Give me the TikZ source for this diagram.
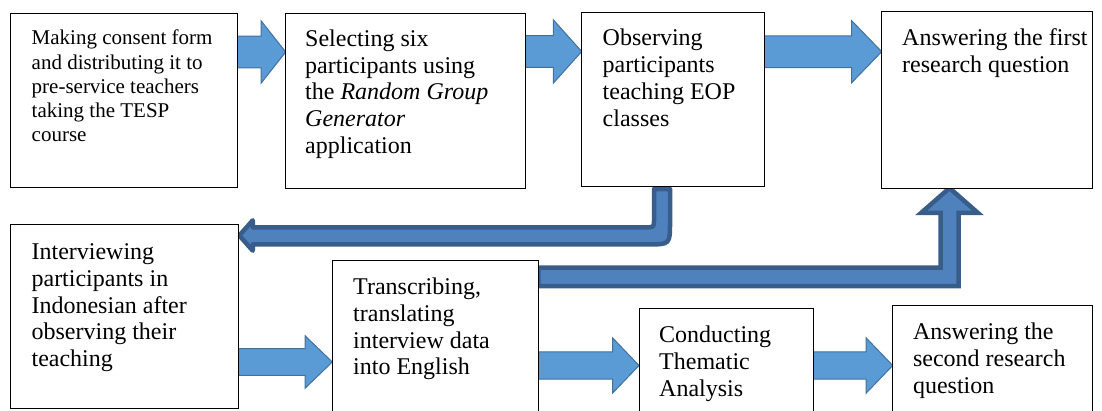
\documentclass[tikz,border=0pt]{standalone}
\usepackage{fontspec}
\setmainfont{Liberation Serif}
\usetikzlibrary{calc,backgrounds}
\definecolor{arrowfill}{HTML}{5B9BD5}
\definecolor{arrowline}{HTML}{41719C}
\definecolor{bentfill}{HTML}{4F81BD}
\definecolor{bentline}{HTML}{385D8A}
\newcommand\bigtxt{\fontsize{24}{26.8}\selectfont}
\newcommand\smalltxt{\fontsize{21}{24.3}\selectfont}
\newcommand\flatarr[6]{%
  \draw[flatarrow] (#1.east |- 0,#3-#4) -- ($(#2.west |- 0,#3-#4)+(-#6,0)$) -- ($(#2.west |- 0,#3-#5)+(-#6,0)$) -- (#2.west |- 0,#3) -- ($(#2.west |- 0,#3+#5)+(-#6,0)$) -- ($(#2.west |- 0,#3+#4)+(-#6,0)$) -- (#1.east |- 0,#3+#4) -- cycle;}
\begin{document}
\begin{tikzpicture}[x=1pt,y=-1pt,
  box/.style={draw=black,line width=0.9pt,fill=white,rectangle,inner sep=0pt,outer sep=0pt,anchor=north west},
  txt/.style={anchor=north west,inner sep=0pt,align=left,font=\bigtxt},
  flatarrow/.style={fill=arrowfill,draw=arrowline,line width=1pt,line join=miter},
  bentarrow/.style={fill=bentfill,draw=bentline,line width=4.5pt}]
\useasboundingbox (0,0) rectangle (1102,410);
\clip (0,0) rectangle (1102,410);
% boxes
\node[box,minimum width=226.8pt,minimum height=173.7pt] (b1) at (10.5,13.3) {};
\node[box,minimum width=240pt,minimum height=174.7pt] (b2) at (285.7,13.3) {};
\node[box,minimum width=182.6pt,minimum height=174pt] (b3) at (581.7,12.5) {};
\node[box,minimum width=210.5pt,minimum height=176.5pt] (b4) at (881.7,11.5) {};
\node[box,minimum width=227.8pt,minimum height=184pt] (b5) at (10.5,224) {};
\node[box,minimum width=206pt,minimum height=170pt] (b6) at (332.3,260) {};
\node[box,minimum width=174.3pt,minimum height=130pt] (b7) at (639,308.3) {};
\node[box,minimum width=199.5pt,minimum height=130pt] (b8) at (892.7,305) {};
% texts
\node[txt,font=\smalltxt] (t1) at ($(b1.north west)+(21,13.2)$) {\rule{0pt}{18pt}Making consent form\\and distributing it to\\pre-service teachers\\taking the TESP\\course};
\node[txt] (t2) at ($(b2.north west)+(19.3,12.7)$) {\rule{0pt}{20pt}Selecting six\\participants using\\the \textit{Random Group}\\\textit{Generator}\\application};
\node[txt] (t3) at ($(b3.north west)+(20.8,13.1)$) {\rule{0pt}{20pt}Observing\\participants\\teaching EOP\\classes};
\node[txt] (t4) at ($(b4.north west)+(20.3,14)$) {\rule{0pt}{20pt}Answering the first\\research question};
\node[txt] (t5) at ($(b5.north west)+(20.9,15.2)$) {\rule{0pt}{20pt}Interviewing\\participants in\\Indonesian after\\observing their\\teaching};
\node[txt] (t6) at ($(b6.north west)+(20.7,14.2)$) {\rule{0pt}{20pt}Transcribing,\\translating\\interview data\\into English};
\node[txt] (t7) at ($(b7.north west)+(20,14.3)$) {\rule{0pt}{20pt}Conducting\\Thematic\\Analysis};
\node[txt] (t8) at ($(b8.north west)+(20.1,14.2)$) {\rule{0pt}{20pt}Answering the\\second research\\question};
% arrows
\begin{scope}[on background layer]
\flatarr{b1}{b2}{52}{15.9}{31.3}{24.7}
\flatarr{b2}{b3}{51.5}{15.8}{31.7}{28.4}
\flatarr{b3}{b4}{51.7}{15.8}{31}{30}
\flatarr{b5}{b6}{362}{13.4}{26.3}{27.3}
\flatarr{b6}{b7}{365.5}{13.7}{27.5}{26.3}
\flatarr{b7}{b8}{365.5}{13.7}{27.8}{26.7}
% bent arrow from observing to interviewing
\draw[bentarrow,line join=round] (654,189) -- (654,219.3) .. controls (654,227.3) .. (646,227.3) -- (252.75,227.3) -- (252.75,220.3) -- ($(b5.east |- 0,235.5)+(1,0)$) -- (252.75,250.7) -- (252.75,244.4) -- (648,244.4) .. controls (670,244.4) .. (670,222.4) -- (670,189) -- cycle;
% bent arrow from transcribing to answering the first question
\draw[bentarrow,line join=miter] (b6.east |- 0,267.5) -- (940.5,267.5) -- (940.5,212.8) -- (921.2,212.8) -- (949.5,0 |- b4.south) -- (977.8,212.8) -- (958.5,212.8) -- (958.5,286.2) -- (b6.east |- 0,286.2) -- cycle;
\end{scope}
\end{tikzpicture}
\end{document}
